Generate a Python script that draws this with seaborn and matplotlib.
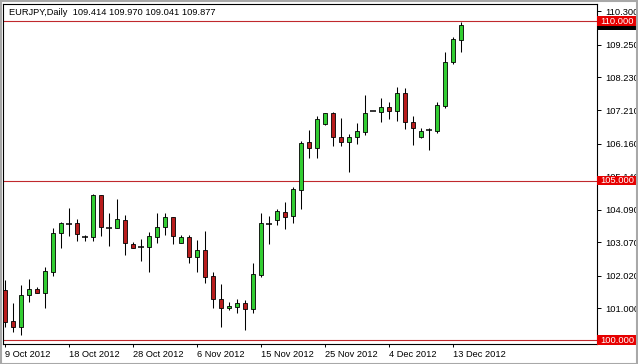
import matplotlib
matplotlib.use("Agg")
import matplotlib.pyplot as plt
import matplotlib.transforms as mtransforms
from matplotlib.patches import Rectangle
import seaborn as sns
import pandas as pd

# ---- data ----
opens = [101.57, 100.60, 100.40, 101.40, 101.60, 101.46, 102.14, 103.35, 103.66, 103.66,
         103.22, 103.22, 104.55, 103.52, 103.50, 103.76, 103.00, 102.92, 102.92, 103.24,
         103.53, 103.85, 103.05, 103.22, 102.59, 102.82, 102.01, 101.29, 100.99, 101.04,
         101.15, 100.96, 102.05, 103.65, 103.75, 104.02, 103.89, 104.70, 106.20, 106.01,
         106.77, 107.11, 106.35, 106.20, 106.37, 106.53, 107.18, 107.16, 107.29, 107.19,
         107.75, 106.84, 106.35, 106.58, 106.55, 107.35, 108.72, 109.414]
highs = [101.88, 101.15, 101.72, 101.91, 101.65, 102.28, 103.50, 103.71, 104.13, 103.79,
         103.29, 104.58, 104.55, 103.97, 104.42, 103.92, 103.06, 103.16, 103.39, 103.97,
         103.99, 103.85, 103.29, 103.29, 103.13, 103.43, 102.14, 101.76, 101.20, 101.29,
         101.24, 102.40, 103.97, 103.88, 104.11, 104.32, 104.80, 106.25, 106.58, 107.02,
         107.13, 107.14, 106.95, 106.46, 106.79, 107.68, 107.19, 107.58, 107.47, 107.94,
         107.89, 107.02, 106.64, 106.66, 107.45, 109.04, 109.51, 109.970]
lows = [100.42, 100.26, 100.15, 101.20, 101.46, 101.01, 102.01, 102.89, 103.26, 103.11,
        103.11, 103.10, 103.26, 102.96, 103.50, 102.66, 102.87, 102.49, 102.14, 103.05,
        103.29, 103.01, 103.05, 102.42, 102.14, 101.78, 101.01, 100.40, 100.94, 100.86,
        100.30, 100.86, 101.99, 103.02, 103.60, 103.49, 103.66, 104.10, 105.70, 105.70,
        106.74, 106.08, 106.09, 105.26, 106.13, 106.43, 107.17, 106.84, 106.93, 106.87,
        106.61, 106.11, 106.32, 105.96, 106.48, 107.26, 108.64, 109.041]
closes = [100.57, 100.40, 101.40, 101.60, 101.46, 102.16, 103.35, 103.66, 103.64, 103.31,
          103.22, 104.55, 103.53, 103.52, 103.78, 103.03, 102.89, 102.92, 103.26, 103.53,
          103.85, 103.27, 103.22, 102.59, 102.82, 101.98, 101.28, 100.99, 101.07, 101.15,
          100.96, 102.06, 103.66, 103.64, 104.03, 103.87, 104.72, 106.17, 106.01, 106.92,
          107.11, 106.35, 106.20, 106.37, 106.55, 107.11, 107.18, 107.29, 107.19, 107.75,
          106.84, 106.64, 106.56, 106.57, 107.37, 108.72, 109.43, 109.877]

date_labels = ["9 Oct 2012", "18 Oct 2012", "28 Oct 2012", "6 Nov 2012",
               "15 Nov 2012", "25 Nov 2012", "4 Dec 2012", "13 Dec 2012"]
date_tick_bars = [0, 8, 16, 24, 32, 40, 48, 56]
price_ticks = [101.000, 102.020, 103.070, 104.090, 105.140,
               106.160, 107.210, 108.230, 109.250, 110.300]
level_lines = [100.0, 105.0, 110.0]
title_text = "EURJPY,Daily  109.414 109.970 109.041 109.877"
bid_price = 109.877

# ---- style ----
sns.set_style("white")
plt.rcParams['font.family'] = ['Liberation Sans', 'DejaVu Sans']
FS = 6.7
GREEN = '#32cd32'
RED_BODY = '#b81c1c'
LINE_RED = '#c0282d'
BOX_RED = '#e60000'

df = pd.DataFrame({"bar": range(len(opens)), "open": opens, "high": highs,
                   "low": lows, "close": closes})
df["doji"] = (df["close"] - df["open"]).abs() < 0.03
df["up"] = df["close"] > df["open"]

W, H = 638, 364
fig = plt.figure(figsize=(W / 100, H / 100), dpi=100)
fig.patch.set_facecolor('white')
ax = fig.add_axes([3 / W, 20 / H, 594 / W, 340 / H])
ax.set_facecolor('white')

# level lines
for v in level_lines:
    ax.axhline(v, color=LINE_RED, lw=0.8, zorder=1)

# wicks
ax.vlines(df["bar"], df["low"], df["high"], color='black', lw=0.75, zorder=2)

# bodies
body = df[~df["doji"]]
bottoms = body[["open", "close"]].min(axis=1)
heights = (body["close"] - body["open"]).abs()
colors = [GREEN if u else RED_BODY for u in body["up"]]
ax.bar(body["bar"], heights, bottom=bottoms, width=0.56, color=colors,
       edgecolor='black', linewidth=0.6, zorder=3)

# doji marks
doji = df[df["doji"]]
sns.scatterplot(data=doji, x="bar", y="close", marker='_', s=16, color='black',
                linewidth=1.1, ax=ax, zorder=4, legend=False)

ax.set_xlim(-0.275, 73.98)
ax.set_ylim(99.875, 110.533)

ax.set_xlabel("")
ax.set_ylabel("")
ax.set_xticks(date_tick_bars)
ax.set_xticklabels(date_labels, ha='left')
ax.tick_params(axis='x', direction='out', length=2.5, width=0.7, pad=1.5,
               labelsize=FS, bottom=True, colors='black')
ax.yaxis.tick_right()
ax.set_yticks(price_ticks)
ax.set_yticklabels([f"{v:.3f}" for v in price_ticks])
ax.tick_params(axis='y', direction='out', length=3, width=0.7, pad=2.8,
               labelsize=FS, right=True, left=False, colors='black')
for s in ax.spines.values():
    s.set_visible(True)
    s.set_color('black')
    s.set_linewidth(0.8)

# title inside chart
ax.text(6 / 594, 0.9756, title_text, transform=ax.transAxes, ha='left',
        va='center', fontsize=FS, color='black')

# price labels on right axis
trans = mtransforms.blended_transform_factory(ax.transAxes, ax.transData)
bw = 39 / 594
half = 0.145

# bid price box (its text is hidden under the 110.000 label in the reference)
ax.add_patch(Rectangle((1.0, bid_price - half), bw, 2 * half, transform=trans,
                       facecolor='black', edgecolor='none', clip_on=False, zorder=5))
for v in level_lines:
    ax.add_patch(Rectangle((1.0, v - half), bw, 2 * half, transform=trans,
                           facecolor=BOX_RED, edgecolor='none', clip_on=False, zorder=6))
    ax.text(1.0 + 3.5 / 594, v, f"{v:.3f}", transform=trans, ha='left', va='center',
            fontsize=FS, color='white', clip_on=False, zorder=7)

# light grey outer frame
fig.add_artist(Rectangle((0.5 / W, 0.5 / H), (W - 1.5) / W, (H - 1.5) / H,
                         transform=fig.transFigure, fill=False,
                         edgecolor='#a8a8a8', lw=1.5))

fig.savefig("out.png", dpi=100)
